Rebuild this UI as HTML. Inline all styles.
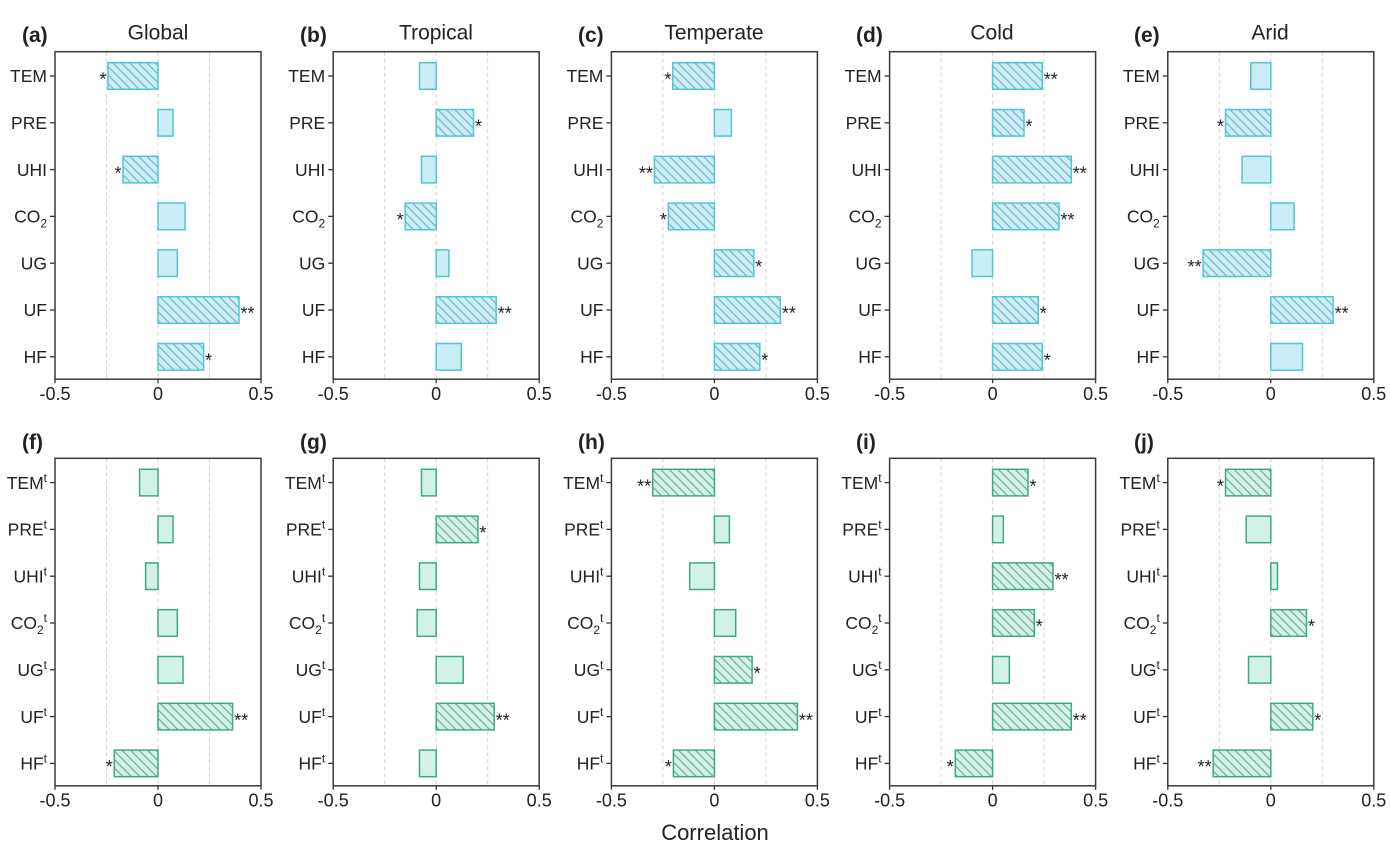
<!DOCTYPE html>
<html><head><meta charset="utf-8"><style>
html,body{margin:0;padding:0;background:#fff;}
svg{display:block;}
text{font-family:"Liberation Sans",Arial,sans-serif;fill:#222;}
.yl text{font-size:17.5px;text-anchor:end;}
.xl text{font-size:18px;text-anchor:middle;}
.st{font-size:18px;fill:#222;}
.e{text-anchor:end;}
.ttl{font-size:21px;text-anchor:middle;}
.lab{font-size:21px;font-weight:bold;}
.ht{fill:url(#hT);stroke:#4fc6d3;stroke-width:1.5;}
.pt{fill:#cbeef6;stroke:#4fc6d3;stroke-width:1.5;}
.hb{fill:url(#hB);stroke:#3ea987;stroke-width:1.5;}
.pb{fill:#d3f2e6;stroke:#3ea987;stroke-width:1.5;}
</style></head><body>
<svg width="1390" height="847" viewBox="0 0 1390 847" xmlns="http://www.w3.org/2000/svg">
<defs>
<pattern id="hT" patternUnits="userSpaceOnUse" width="6" height="6" patternTransform="rotate(-45)">
<rect width="6" height="6" fill="#cbeef6"/><line x1="3" y1="-1" x2="3" y2="7" stroke="#74afbd" stroke-width="1.1"/></pattern>
<pattern id="hB" patternUnits="userSpaceOnUse" width="6" height="6" patternTransform="rotate(-45)">
<rect width="6" height="6" fill="#d3f2e6"/><line x1="3" y1="-1" x2="3" y2="7" stroke="#6ba692" stroke-width="1.1"/></pattern>
<g id="axes">
<g stroke="#cfcfcf" stroke-width="0.9" stroke-dasharray="4,3">
<line x1="51.5" y1="0" x2="51.5" y2="327.5"/><line x1="103" y1="0" x2="103" y2="327.5"/><line x1="154.5" y1="0" x2="154.5" y2="327.5"/>
</g>
<g stroke="#333" stroke-width="1.3">
<line x1="-5" y1="24.3" x2="0" y2="24.3"/><line x1="-5" y1="71.1" x2="0" y2="71.1"/><line x1="-5" y1="117.9" x2="0" y2="117.9"/><line x1="-5" y1="164.7" x2="0" y2="164.7"/><line x1="-5" y1="211.5" x2="0" y2="211.5"/><line x1="-5" y1="258.3" x2="0" y2="258.3"/><line x1="-5" y1="305.1" x2="0" y2="305.1"/>
<line x1="0" y1="327.5" x2="0" y2="331.5"/><line x1="103" y1="327.5" x2="103" y2="331.5"/><line x1="206" y1="327.5" x2="206" y2="331.5"/>
</g>
</g>
<g id="frame"><rect x="0" y="0" width="206" height="327.5" fill="none" stroke="#3a3a3a" stroke-width="1.5"/></g>
</defs>

<!-- titles -->
<text class="lab" x="22" y="42">(a)</text><text class="ttl" x="158" y="39.5">Global</text>
<text class="lab" x="300" y="42">(b)</text><text class="ttl" x="436" y="39.5">Tropical</text>
<text class="lab" x="578" y="42">(c)</text><text class="ttl" x="714" y="39.5">Temperate</text>
<text class="lab" x="856" y="42">(d)</text><text class="ttl" x="992" y="39.5">Cold</text>
<text class="lab" x="1134" y="42">(e)</text><text class="ttl" x="1270" y="39.5">Arid</text>
<text class="lab" x="22" y="449">(f)</text>
<text class="lab" x="300" y="449">(g)</text>
<text class="lab" x="578" y="449">(h)</text>
<text class="lab" x="856" y="449">(i)</text>
<text class="lab" x="1134" y="449">(j)</text>
<text x="715" y="840" style="font-size:22px;text-anchor:middle;">Correlation</text>

<!-- Panel a -->
<g transform="translate(55,51.7)">
<use href="#axes"/>
<rect class="ht" x="53" y="11" width="50" height="26.6"/>
<rect class="pt" x="103" y="57.8" width="15" height="26.6"/>
<rect class="ht" x="68" y="104.6" width="35" height="26.6"/>
<rect class="pt" x="103" y="151.4" width="27" height="26.6"/>
<rect class="pt" x="103" y="198.2" width="19.3" height="26.6"/>
<rect class="ht" x="103" y="245" width="81" height="26.6"/>
<rect class="ht" x="103" y="291.8" width="45.6" height="26.6"/>
<text class="st e" x="51.5" y="34">*</text>
<text class="st e" x="66.5" y="127.6">*</text>
<text class="st" x="185.5" y="268">**</text>
<text class="st" x="150" y="314.8">*</text>
<g class="yl"><text x="-8" y="30.5">TEM</text><text x="-8" y="77.3">PRE</text><text x="-8" y="124.1">UHI</text><text x="-8" y="170.9">CO<tspan font-size="12" dy="5">2</tspan></text><text x="-8" y="217.7">UG</text><text x="-8" y="264.5">UF</text><text x="-8" y="311.3">HF</text></g>
<g class="xl"><text x="0" y="348.3">-0.5</text><text x="103" y="348.3">0</text><text x="206" y="348.3">0.5</text></g>
<use href="#frame"/>
</g>

<!-- Panel b -->
<g transform="translate(333.2,51.7)">
<use href="#axes"/>
<rect class="pt" x="86.3" y="11" width="16.7" height="26.6"/>
<rect class="ht" x="103" y="57.8" width="37.3" height="26.6"/>
<rect class="pt" x="88.3" y="104.6" width="14.7" height="26.6"/>
<rect class="ht" x="72" y="151.4" width="31" height="26.6"/>
<rect class="pt" x="103" y="198.2" width="12.7" height="26.6"/>
<rect class="ht" x="103" y="245" width="60" height="26.6"/>
<rect class="pt" x="103" y="291.8" width="25" height="26.6"/>
<text class="st" x="141.8" y="80.8">*</text>
<text class="st e" x="70.5" y="174.4">*</text>
<text class="st" x="164.5" y="268">**</text>
<g class="yl"><text x="-8" y="30.5">TEM</text><text x="-8" y="77.3">PRE</text><text x="-8" y="124.1">UHI</text><text x="-8" y="170.9">CO<tspan font-size="12" dy="5">2</tspan></text><text x="-8" y="217.7">UG</text><text x="-8" y="264.5">UF</text><text x="-8" y="311.3">HF</text></g>
<g class="xl"><text x="0" y="348.3">-0.5</text><text x="103" y="348.3">0</text><text x="206" y="348.3">0.5</text></g>
<use href="#frame"/>
</g>

<!-- Panel c -->
<g transform="translate(611.4,51.7)">
<use href="#axes"/>
<rect class="ht" x="61.4" y="11" width="41.6" height="26.6"/>
<rect class="pt" x="103" y="57.8" width="17" height="26.6"/>
<rect class="ht" x="43" y="104.6" width="60" height="26.6"/>
<rect class="ht" x="57" y="151.4" width="46" height="26.6"/>
<rect class="ht" x="103" y="198.2" width="39.4" height="26.6"/>
<rect class="ht" x="103" y="245" width="66" height="26.6"/>
<rect class="ht" x="103" y="291.8" width="45.4" height="26.6"/>
<text class="st e" x="59.9" y="34">*</text>
<text class="st e" x="41.5" y="127.6">**</text>
<text class="st e" x="55.5" y="174.4">*</text>
<text class="st" x="143.9" y="221.2">*</text>
<text class="st" x="170.5" y="268">**</text>
<text class="st" x="149.9" y="314.8">*</text>
<g class="yl"><text x="-8" y="30.5">TEM</text><text x="-8" y="77.3">PRE</text><text x="-8" y="124.1">UHI</text><text x="-8" y="170.9">CO<tspan font-size="12" dy="5">2</tspan></text><text x="-8" y="217.7">UG</text><text x="-8" y="264.5">UF</text><text x="-8" y="311.3">HF</text></g>
<g class="xl"><text x="0" y="348.3">-0.5</text><text x="103" y="348.3">0</text><text x="206" y="348.3">0.5</text></g>
<use href="#frame"/>
</g>

<!-- Panel d -->
<g transform="translate(889.6,51.7)">
<use href="#axes"/>
<rect class="ht" x="103" y="11" width="49.7" height="26.6"/>
<rect class="ht" x="103" y="57.8" width="31.4" height="26.6"/>
<rect class="ht" x="103" y="104.6" width="78.7" height="26.6"/>
<rect class="ht" x="103" y="151.4" width="66.4" height="26.6"/>
<rect class="pt" x="82.4" y="198.2" width="20.6" height="26.6"/>
<rect class="ht" x="103" y="245" width="45.7" height="26.6"/>
<rect class="ht" x="103" y="291.8" width="49.7" height="26.6"/>
<text class="st" x="154.2" y="34">**</text>
<text class="st" x="135.9" y="80.8">*</text>
<text class="st" x="183.2" y="127.6">**</text>
<text class="st" x="170.9" y="174.4">**</text>
<text class="st" x="150.2" y="268">*</text>
<text class="st" x="154.2" y="314.8">*</text>
<g class="yl"><text x="-8" y="30.5">TEM</text><text x="-8" y="77.3">PRE</text><text x="-8" y="124.1">UHI</text><text x="-8" y="170.9">CO<tspan font-size="12" dy="5">2</tspan></text><text x="-8" y="217.7">UG</text><text x="-8" y="264.5">UF</text><text x="-8" y="311.3">HF</text></g>
<g class="xl"><text x="0" y="348.3">-0.5</text><text x="103" y="348.3">0</text><text x="206" y="348.3">0.5</text></g>
<use href="#frame"/>
</g>

<!-- Panel e -->
<g transform="translate(1167.8,51.7)">
<use href="#axes"/>
<rect class="pt" x="83" y="11" width="20" height="26.6"/>
<rect class="ht" x="57.7" y="57.8" width="45.3" height="26.6"/>
<rect class="pt" x="74.3" y="104.6" width="28.7" height="26.6"/>
<rect class="pt" x="103" y="151.4" width="23.3" height="26.6"/>
<rect class="ht" x="35.3" y="198.2" width="67.7" height="26.6"/>
<rect class="ht" x="103" y="245" width="62.3" height="26.6"/>
<rect class="pt" x="103" y="291.8" width="31.7" height="26.6"/>
<text class="st e" x="56.2" y="80.8">*</text>
<text class="st e" x="33.8" y="221.2">**</text>
<text class="st" x="166.8" y="268">**</text>
<g class="yl"><text x="-8" y="30.5">TEM</text><text x="-8" y="77.3">PRE</text><text x="-8" y="124.1">UHI</text><text x="-8" y="170.9">CO<tspan font-size="12" dy="5">2</tspan></text><text x="-8" y="217.7">UG</text><text x="-8" y="264.5">UF</text><text x="-8" y="311.3">HF</text></g>
<g class="xl"><text x="0" y="348.3">-0.5</text><text x="103" y="348.3">0</text><text x="206" y="348.3">0.5</text></g>
<use href="#frame"/>
</g>

<!-- Panel f -->
<g transform="translate(55,458.3)">
<use href="#axes"/>
<rect class="pb" x="84.6" y="11" width="18.4" height="26.6"/>
<rect class="pb" x="103" y="57.8" width="15" height="26.6"/>
<rect class="pb" x="90.6" y="104.6" width="12.4" height="26.6"/>
<rect class="pb" x="103" y="151.4" width="19.3" height="26.6"/>
<rect class="pb" x="103" y="198.2" width="25" height="26.6"/>
<rect class="hb" x="103" y="245" width="74.6" height="26.6"/>
<rect class="hb" x="59.3" y="291.8" width="43.7" height="26.6"/>
<text class="st" x="179.1" y="268">**</text>
<text class="st e" x="57.8" y="314.8">*</text>
<g class="yl"><text x="-8" y="30.5">TEM<tspan font-size="12" dy="-7">t</tspan></text><text x="-8" y="77.3">PRE<tspan font-size="12" dy="-7">t</tspan></text><text x="-8" y="124.1">UHI<tspan font-size="12" dy="-7">t</tspan></text><text x="-8" y="170.9">CO<tspan font-size="12" dy="5">2</tspan><tspan font-size="12" dy="-12">t</tspan></text><text x="-8" y="217.7">UG<tspan font-size="12" dy="-7">t</tspan></text><text x="-8" y="264.5">UF<tspan font-size="12" dy="-7">t</tspan></text><text x="-8" y="311.3">HF<tspan font-size="12" dy="-7">t</tspan></text></g>
<g class="xl"><text x="0" y="348.3">-0.5</text><text x="103" y="348.3">0</text><text x="206" y="348.3">0.5</text></g>
<use href="#frame"/>
</g>

<!-- Panel g -->
<g transform="translate(333.2,458.3)">
<use href="#axes"/>
<rect class="pb" x="88.3" y="11" width="14.7" height="26.6"/>
<rect class="hb" x="103" y="57.8" width="41.7" height="26.6"/>
<rect class="pb" x="86.3" y="104.6" width="16.7" height="26.6"/>
<rect class="pb" x="84" y="151.4" width="19" height="26.6"/>
<rect class="pb" x="103" y="198.2" width="27" height="26.6"/>
<rect class="hb" x="103" y="245" width="58" height="26.6"/>
<rect class="pb" x="86.3" y="291.8" width="16.7" height="26.6"/>
<text class="st" x="146.2" y="80.8">*</text>
<text class="st" x="162.5" y="268">**</text>
<g class="yl"><text x="-8" y="30.5">TEM<tspan font-size="12" dy="-7">t</tspan></text><text x="-8" y="77.3">PRE<tspan font-size="12" dy="-7">t</tspan></text><text x="-8" y="124.1">UHI<tspan font-size="12" dy="-7">t</tspan></text><text x="-8" y="170.9">CO<tspan font-size="12" dy="5">2</tspan><tspan font-size="12" dy="-12">t</tspan></text><text x="-8" y="217.7">UG<tspan font-size="12" dy="-7">t</tspan></text><text x="-8" y="264.5">UF<tspan font-size="12" dy="-7">t</tspan></text><text x="-8" y="311.3">HF<tspan font-size="12" dy="-7">t</tspan></text></g>
<g class="xl"><text x="0" y="348.3">-0.5</text><text x="103" y="348.3">0</text><text x="206" y="348.3">0.5</text></g>
<use href="#frame"/>
</g>

<!-- Panel h -->
<g transform="translate(611.4,458.3)">
<use href="#axes"/>
<rect class="hb" x="41.3" y="11" width="61.7" height="26.6"/>
<rect class="pb" x="103" y="57.8" width="15" height="26.6"/>
<rect class="pb" x="78.3" y="104.6" width="24.7" height="26.6"/>
<rect class="pb" x="103" y="151.4" width="21.3" height="26.6"/>
<rect class="hb" x="103" y="198.2" width="37.7" height="26.6"/>
<rect class="hb" x="103" y="245" width="83" height="26.6"/>
<rect class="hb" x="62" y="291.8" width="41" height="26.6"/>
<text class="st e" x="39.8" y="34">**</text>
<text class="st" x="142.2" y="221.2">*</text>
<text class="st" x="187.5" y="268">**</text>
<text class="st e" x="60.5" y="314.8">*</text>
<g class="yl"><text x="-8" y="30.5">TEM<tspan font-size="12" dy="-7">t</tspan></text><text x="-8" y="77.3">PRE<tspan font-size="12" dy="-7">t</tspan></text><text x="-8" y="124.1">UHI<tspan font-size="12" dy="-7">t</tspan></text><text x="-8" y="170.9">CO<tspan font-size="12" dy="5">2</tspan><tspan font-size="12" dy="-12">t</tspan></text><text x="-8" y="217.7">UG<tspan font-size="12" dy="-7">t</tspan></text><text x="-8" y="264.5">UF<tspan font-size="12" dy="-7">t</tspan></text><text x="-8" y="311.3">HF<tspan font-size="12" dy="-7">t</tspan></text></g>
<g class="xl"><text x="0" y="348.3">-0.5</text><text x="103" y="348.3">0</text><text x="206" y="348.3">0.5</text></g>
<use href="#frame"/>
</g>

<!-- Panel i -->
<g transform="translate(889.6,458.3)">
<use href="#axes"/>
<rect class="hb" x="103" y="11" width="35.4" height="26.6"/>
<rect class="pb" x="103" y="57.8" width="10.7" height="26.6"/>
<rect class="hb" x="103" y="104.6" width="60.4" height="26.6"/>
<rect class="hb" x="103" y="151.4" width="41.7" height="26.6"/>
<rect class="pb" x="103" y="198.2" width="16.7" height="26.6"/>
<rect class="hb" x="103" y="245" width="78.7" height="26.6"/>
<rect class="hb" x="65.7" y="291.8" width="37.3" height="26.6"/>
<text class="st" x="139.9" y="34">*</text>
<text class="st" x="164.9" y="127.6">**</text>
<text class="st" x="146.2" y="174.4">*</text>
<text class="st" x="183.2" y="268">**</text>
<text class="st e" x="64.2" y="314.8">*</text>
<g class="yl"><text x="-8" y="30.5">TEM<tspan font-size="12" dy="-7">t</tspan></text><text x="-8" y="77.3">PRE<tspan font-size="12" dy="-7">t</tspan></text><text x="-8" y="124.1">UHI<tspan font-size="12" dy="-7">t</tspan></text><text x="-8" y="170.9">CO<tspan font-size="12" dy="5">2</tspan><tspan font-size="12" dy="-12">t</tspan></text><text x="-8" y="217.7">UG<tspan font-size="12" dy="-7">t</tspan></text><text x="-8" y="264.5">UF<tspan font-size="12" dy="-7">t</tspan></text><text x="-8" y="311.3">HF<tspan font-size="12" dy="-7">t</tspan></text></g>
<g class="xl"><text x="0" y="348.3">-0.5</text><text x="103" y="348.3">0</text><text x="206" y="348.3">0.5</text></g>
<use href="#frame"/>
</g>

<!-- Panel j -->
<g transform="translate(1167.8,458.3)">
<use href="#axes"/>
<rect class="hb" x="57.7" y="11" width="45.3" height="26.6"/>
<rect class="pb" x="78.4" y="57.8" width="24.6" height="26.6"/>
<rect class="pb" x="103" y="104.6" width="6.7" height="26.6"/>
<rect class="hb" x="103" y="151.4" width="35.7" height="26.6"/>
<rect class="pb" x="80.7" y="198.2" width="22.3" height="26.6"/>
<rect class="hb" x="103" y="245" width="42" height="26.6"/>
<rect class="hb" x="45.4" y="291.8" width="57.6" height="26.6"/>
<text class="st e" x="56.2" y="34">*</text>
<text class="st" x="140.2" y="174.4">*</text>
<text class="st" x="146.5" y="268">*</text>
<text class="st e" x="43.9" y="314.8">**</text>
<g class="yl"><text x="-8" y="30.5">TEM<tspan font-size="12" dy="-7">t</tspan></text><text x="-8" y="77.3">PRE<tspan font-size="12" dy="-7">t</tspan></text><text x="-8" y="124.1">UHI<tspan font-size="12" dy="-7">t</tspan></text><text x="-8" y="170.9">CO<tspan font-size="12" dy="5">2</tspan><tspan font-size="12" dy="-12">t</tspan></text><text x="-8" y="217.7">UG<tspan font-size="12" dy="-7">t</tspan></text><text x="-8" y="264.5">UF<tspan font-size="12" dy="-7">t</tspan></text><text x="-8" y="311.3">HF<tspan font-size="12" dy="-7">t</tspan></text></g>
<g class="xl"><text x="0" y="348.3">-0.5</text><text x="103" y="348.3">0</text><text x="206" y="348.3">0.5</text></g>
<use href="#frame"/>
</g>
</svg>
</body></html>
